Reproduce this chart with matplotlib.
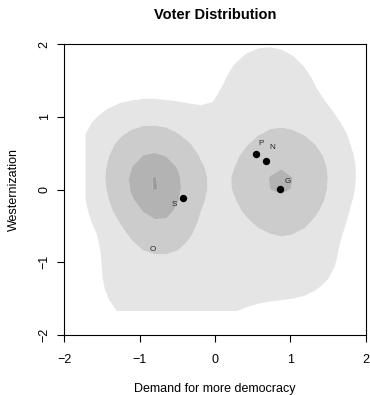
import numpy as np
import matplotlib
matplotlib.use("Agg")
import matplotlib.pyplot as plt

plt.rcParams['font.family'] = ['Liberation Sans', 'DejaVu Sans']

# ---- data ----
# voter-density mixture components (centre, spread, weight)
comp_x = [-0.80, -0.62, 0.86, 0.70, -1.10, -0.10, 1.35, -1.10, -0.20, 1.05]
comp_y = [0.10, -0.55, 0.10, 1.40, 0.70, 0.95, 0.60, -1.10, -1.35, -1.00]
comp_sx = [0.38, 0.28, 0.41, 0.38, 0.45, 0.40, 0.35, 0.30, 0.55, 0.45]
comp_sy = [0.42, 0.30, 0.45, 0.40, 0.35, 0.35, 0.50, 0.50, 0.35, 0.40]
comp_w = [1.00, 0.25, 0.735, 0.13, 0.09, 0.03, 0.05, 0.10, 0.10, 0.09]
grid_x_range = [-1.72, 1.95]
grid_y_range = [-1.67, 2.00]
density_levels = [0.05, 0.25, 0.69]

party_names = ['P', 'N', 'G', 'S']
party_x = [0.54, 0.673, 0.86, -0.43]
party_y = [0.486, 0.40, 0.004, -0.115]
voter_label = 'O'
voter_label_x = -0.83
voter_label_y = -0.825

x_ticks = [-2, -1, 0, 1, 2]
y_ticks = [-2, -1, 0, 1, 2]

# ---- density surface ----
gx = np.linspace(grid_x_range[0], grid_x_range[1], 25)
gy = np.linspace(grid_y_range[0], grid_y_range[1], 25)
X, Y = np.meshgrid(gx, gy)
Z = np.zeros_like(X)
for cx, cy, sx, sy, w in zip(comp_x, comp_y, comp_sx, comp_sy, comp_w):
    Z += w * np.exp(-0.5 * (((X - cx) / sx) ** 2 + ((Y - cy) / sy) ** 2))

levels = density_levels + [Z.max() * 0.985, Z.max() * 1.01]
fills = ['#e5e5e5', '#cccccc', '#b3b3b3', '#9c9c9c']

fig = plt.figure(figsize=(3.70, 3.95), dpi=100)
ax = fig.add_axes([0.1743, 0.1519, 0.8141, 0.7359])
ax.contourf(X, Y, Z, levels=levels, colors=fills, antialiased=True)

ax.scatter(party_x, party_y, s=28, color='black', zorder=5, linewidths=0)
offsets = {'P': (3.5, 7.5), 'N': (4.5, 9.5), 'G': (5.5, 5.5), 'S': (-6.3, -4.9)}
for name, px, py in zip(party_names, party_x, party_y):
    ax.annotate(name, (px, py), xytext=offsets[name], textcoords='offset points',
                ha='center', va='center', fontsize=5.8, color='#222222', zorder=6)
ax.text(voter_label_x, voter_label_y, voter_label, ha='center', va='center',
        fontsize=5.8, color='#222222', zorder=6)

ax.set_xlim(-2, 2)
ax.set_ylim(-2, 2)
ax.set_xticks(x_ticks)
ax.set_yticks(y_ticks)
ax.set_xticklabels(['\u2212' + str(-t) if t < 0 else str(t) for t in x_ticks])
ax.set_yticklabels(['\u2212' + str(-t) if t < 0 else str(t) for t in y_ticks],
                   rotation=90, va='center')
ax.tick_params(direction='out', length=5, width=0.8, labelsize=9)
ax.tick_params(axis='x', pad=8.5)
ax.tick_params(axis='y', pad=5)
for sp in ax.spines.values():
    sp.set_linewidth(0.8)

ax.set_xlabel('Demand for more democracy', fontsize=9)
ax.xaxis.set_label_coords(0.5, -54 / 290.7)
ax.xaxis.label.set_va('center')
ax.set_ylabel('Westernization', fontsize=9)
ax.yaxis.set_label_coords(-50.5 / 301.2, 0.5)
ax.yaxis.label.set_va('center')
fig.text(0.5811, 1 - 15 / 395, 'Voter Distribution', ha='center', va='center',
         fontsize=10.5, fontweight='bold')

fig.savefig('out.png', dpi=100)
